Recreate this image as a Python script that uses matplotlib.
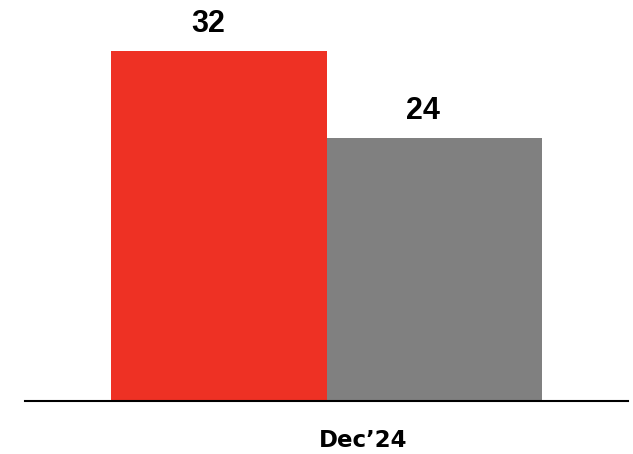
import matplotlib
matplotlib.use('Agg')
import matplotlib.pyplot as plt

categories = ['Dec’24']
series_a = [32]
series_b = [24]
value_labels_a = ['32']
value_labels_b = ['24']

fig = plt.figure(figsize=(6.33, 4.54), dpi=100)
ax = fig.add_axes([25/633, 53/454, 603/633, 401/454])

ax.bar([-0.5], series_a, width=1, color='#EE3124')
ax.bar([0.5], series_b, width=1, color='#808080')

for x, v, s in [(-0.5, series_a[0], value_labels_a[0]), (0.5, series_b[0], value_labels_b[0])]:
	ax.annotate(s, (x, v), xytext=(-11, 19), textcoords='offset pixels',
		ha='center', va='baseline', fontsize=22, fontweight='bold', family='Liberation Sans')

ax.set_xlim(-1.4, 1.4)
ax.set_ylim(0, 36.66)
ax.set_xticks([0.168])
ax.set_xticklabels(categories, fontsize=16.5, fontweight='bold', family='DejaVu Sans')
ax.tick_params(axis='x', length=0, pad=20)
ax.set_yticks([])
for side in ['left', 'right', 'top']:
	ax.spines[side].set_visible(False)
ax.spines['bottom'].set_linewidth(1.5)
ax.spines['bottom'].set_color('black')

fig.savefig('out.png', dpi=100)
